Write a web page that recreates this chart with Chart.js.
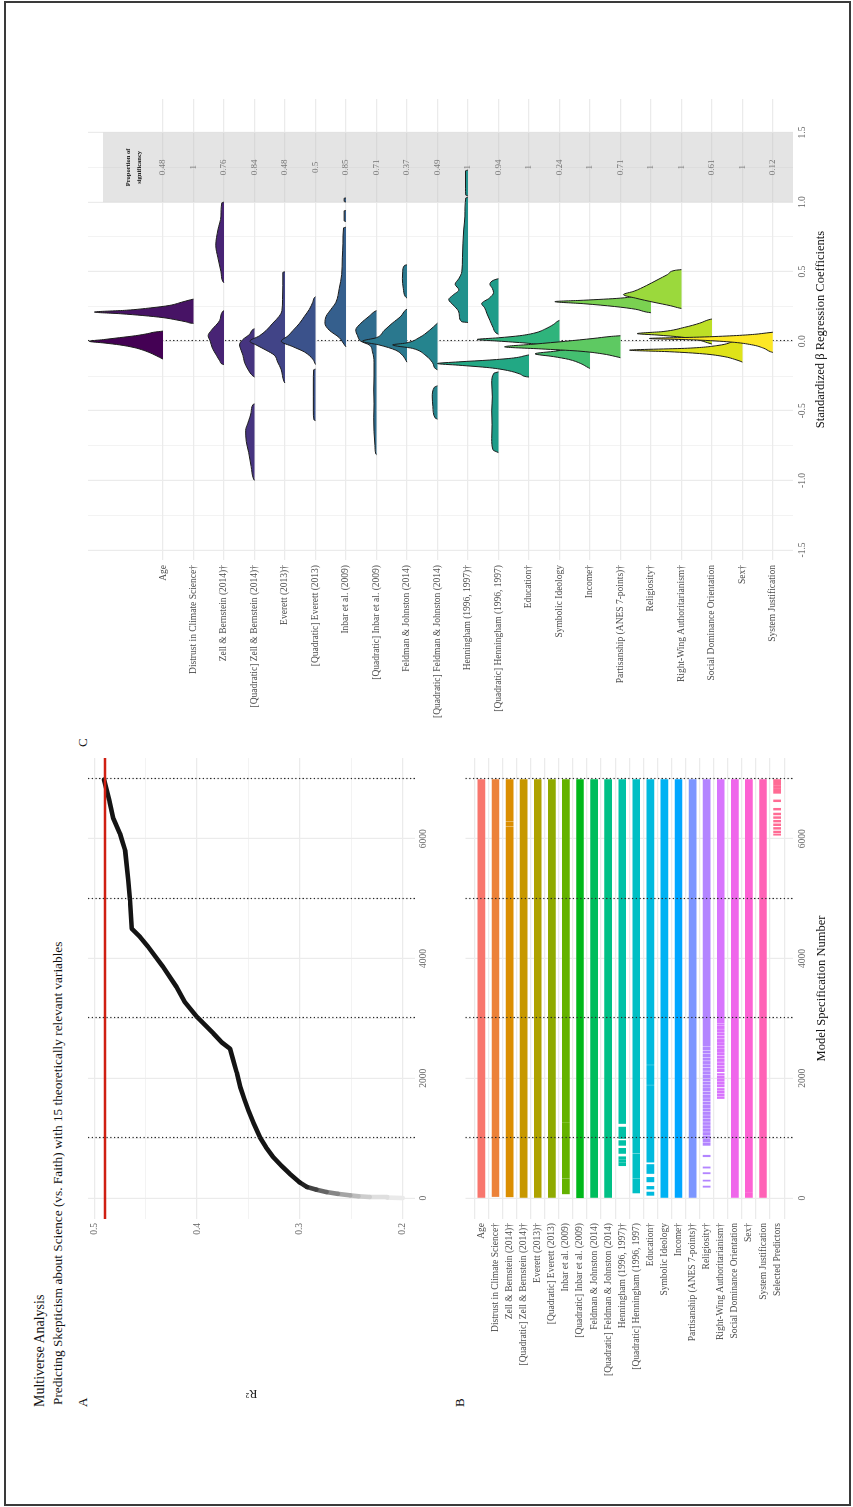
<!DOCTYPE html>
<html>
<head>
<meta charset="utf-8">
<script src="https://cdn.jsdelivr.net/npm/chart.js@4.4.1/dist/chart.umd.min.js"></script>
<style>
  html, body { margin: 0; padding: 0; background: #fff; }
  body { width: 853px; height: 1507px; position: relative; overflow: hidden; }
  #frame { position: absolute; left: 4px; top: 1px; width: 847px; height: 1505px; border: 2px solid #3a3a3a; box-sizing: border-box; }
  #fig { position: absolute; left: 0; top: 0; width: 1507px; height: 853px; transform-origin: 0 0;
         transform: translate(0, 1507px) rotate(-90deg); font-family: 'Liberation Serif', 'Times New Roman', serif; }
  .txt { position: absolute; white-space: nowrap; line-height: 1; color: #111; }
  canvas { position: absolute; }
</style>
</head>
<body>
<div id="frame"></div>
<div id="fig">
  <div class="txt" style="left:100px; top:32.5px; font-size:14px;">Multiverse Analysis</div>
  <div class="txt" style="left:102px; top:50.5px; font-size:13.3px;">Predicting Skepticism about Science (vs. Faith) with 15 theoretically relevant variables</div>
  <div class="txt" style="left:100px; top:75.5px; font-size:13px;">A</div>
  <div class="txt" style="left:100px; top:452.7px; font-size:13px;">B</div>
  <div class="txt" style="left:760px; top:75.5px; font-size:13px;">C</div>
  <canvas id="cA" width="660" height="360" style="left:100px; top:80px;"></canvas>
  <canvas id="cB" width="660" height="395" style="left:100px; top:455px;"></canvas>
  <canvas id="cC" width="650" height="770" style="left:770px; top:80px;"></canvas>
</div>

<script>
// ---------- Panel A: ordered R² across model specifications ----------
const specNumber = [0, 8, 17, 30, 45, 70, 100, 140, 184, 260, 408, 540, 685, 850, 1019, 1250, 1465, 1650, 1855, 2100,
                    2301, 2496, 2600, 2747, 3024, 3275, 3526, 3860, 4194, 4361, 4501, 4974, 5308, 5809, 5976, 6088, 6339, 6645, 6990];
const r2Value = [0.200, 0.215, 0.232, 0.243, 0.251, 0.263, 0.274, 0.284, 0.293, 0.300, 0.310, 0.318, 0.326, 0.333, 0.339,
                 0.345, 0.350, 0.354, 0.358, 0.3615, 0.3648, 0.368, 0.376, 0.384, 0.400, 0.412, 0.420, 0.433, 0.4475, 0.4555,
                 0.4636, 0.4653, 0.467, 0.470, 0.473, 0.475, 0.4815, 0.4854, 0.4905];
const r2Reference = 0.4896;
const specMarkers = [1000, 3000, 5000, 7000];
const specTicks = [0, 1000, 2000, 3000, 4000, 5000, 6000, 7000];
const r2Ticks = [0.2, 0.25, 0.3, 0.35, 0.4, 0.45, 0.5];

// ---------- Panel B: predictors included in each specification ----------
const specRows = ["Age", "Distrust in Climate Science†", "Zell & Bernstein (2014)†", "[Quadratic] Zell & Bernstein (2014)†",
  "Everett (2013)†", "[Quadratic] Everett (2013)", "Inbar et al. (2009)", "[Quadratic] Inbar et al. (2009)",
  "Feldman & Johnston (2014)", "[Quadratic] Feldman & Johnston (2014)", "Henningham (1996, 1997)†",
  "[Quadratic] Henningham (1996, 1997)", "Education†", "Symbolic Ideology", "Income†", "Partisanship (ANES 7-points)†",
  "Religiosity†", "Right-Wing Authoritarianism†", "Social Dominance Orientation", "Sex†", "System Justification",
  "Selected Predictors"];

const inclAge = [[0, 6990]];
const inclDistrust = [[25, 6990]];
const inclZell = [[20, 6200], [6215, 6285], [6300, 6990]];
const inclZellQ = [[0, 6990]];
const inclEverett = [[0, 6990]];
const inclEverettQ = [[0, 6990]];
const inclInbar = [[70, 320], [332, 1250], [1262, 6990]];
const inclInbarQ = [[5, 6990]];
const inclFeldman = [[0, 6990]];
const inclFeldmanQ = [[0, 6990]];
const inclHenningham = [[540, 590], [600, 640], [650, 690], [745, 830], [880, 960], [995, 1185], [1245, 6990]];
const inclHenninghamQ = [[85, 320], [332, 735], [750, 6990]];
const inclEducation = [[45, 100], [150, 195], [270, 345], [410, 560], [600, 1880], [1895, 2215], [2230, 6990]];
const inclSymbolic = [[0, 6990]];
const inclIncome = [[0, 6990]];
const inclPartisanship = [[0, 6990]];
const inclReligiosity = [[180, 200], [282, 300], [405, 425], [500, 520], [690, 715], [880, 920], [935, 985], [1000, 1040],
  [1058, 1095], [1112, 1150], [1165, 1210], [1228, 1262], [1280, 1322], [1338, 1378], [1395, 1432], [1450, 1492],
  [1508, 1548], [1566, 1602], [1620, 1662], [1678, 1718], [1735, 1772], [1790, 1832], [1848, 1882], [1900, 1938],
  [1955, 1992], [2010, 2058], [2075, 2112], [2130, 2172], [2190, 2228], [2245, 2282], [2300, 2342], [2360, 2402],
  [2420, 2452], [2470, 2518], [2535, 6990]];
const inclRWA = [[1662, 1690], [1705, 1735], [1752, 1785], [1800, 1830], [1856, 1885], [1900, 1935], [1950, 1985],
  [2000, 2040], [2058, 2080], [2110, 2150], [2168, 2205], [2222, 2262], [2280, 2318], [2335, 2372], [2390, 2430],
  [2445, 2485], [2500, 2540], [2555, 2598], [2612, 2650], [2668, 2705], [2722, 2762], [2778, 2815], [2830, 2870],
  [2885, 2910], [2924, 6990]];
const inclSDO = [[0, 6990]];
const inclSex = [[0, 80], [92, 6990]];
const inclSysJust = [[0, 6990]];
const inclSelected = [[6060, 6080], [6100, 6130], [6160, 6190], [6220, 6250], [6280, 6310], [6340, 6370], [6400, 6430],
  [6480, 6510], [6620, 6650], [6760, 6830], [6840, 6890], [6900, 6990]];

const inclusion = [inclAge, inclDistrust, inclZell, inclZellQ, inclEverett, inclEverettQ, inclInbar, inclInbarQ,
  inclFeldman, inclFeldmanQ, inclHenningham, inclHenninghamQ, inclEducation, inclSymbolic, inclIncome,
  inclPartisanship, inclReligiosity, inclRWA, inclSDO, inclSex, inclSysJust, inclSelected];

// ---------- Panel C: coefficient densities, [coefficient, ridge height in rows] ----------
const coefRows = specRows.slice(0, 21);
const propSignificant = [0.48, 1, 0.76, 0.84, 0.48, 0.5, 0.85, 0.71, 0.37, 0.49, 1, 0.94, 1, 0.24, 1, 0.71, 1, 1, 0.61, 1, 0.12];
const coefTicks = [-1.5, -1.25, -1, -0.75, -0.5, -0.25, 0, 0.25, 0.5, 0.75, 1, 1.25, 1.5];

const ridgeAge = [[[0.073,0],[0.065,0.3],[0.055,0.5],[0.04,0.9],[0.026,1.42],[0.012,1.95],[0.0,2.42],[-0.013,1.9],
  [-0.026,1.42],[-0.045,0.95],[-0.064,0.65],[-0.09,0.35],[-0.116,0.11],[-0.128,0]]];
const ridgeDistrust = [[[0.303,0],[0.298,0.1],[0.28,0.4],[0.257,0.8],[0.24,1.4],[0.223,2.2],[0.21,3.25],[0.198,2.4],
  [0.185,1.66],[0.17,1.0],[0.154,0.57],[0.14,0.25],[0.129,0.05],[0.128,0]]];
const ridgeZell = [
  [[1.0,0],[0.995,0.07],[0.9,0.1],[0.8,0.2],[0.69,0.27],[0.6,0.2],[0.5,0.1],[0.43,0.04],[0.42,0]],
  [[0.22,0],[0.215,0.04],[0.15,0.14],[0.08,0.41],[0.04,0.52],[0.0,0.45],[-0.05,0.38],[-0.1,0.25],[-0.14,0.14],
   [-0.165,0.05],[-0.168,0]]];
const ridgeZellQ = [
  [[0.09,0],[0.085,0.05],[0.05,0.16],[0.013,0.38],[-0.026,0.49],[-0.064,0.44],[-0.1,0.38],[-0.15,0.33],[-0.2,0.22],
   [-0.25,0.05],[-0.257,0]],
  [[-0.45,0],[-0.455,0.05],[-0.51,0.11],[-0.59,0.22],[-0.64,0.29],[-0.72,0.27],[-0.8,0.19],[-0.9,0.11],[-0.99,0.03],[-1.0,0]]];
const ridgeEverett = [[[0.5,0],[0.495,0.07],[0.4,0.07],[0.3,0.08],[0.22,0.1],[0.18,0.19],[0.13,0.4],[0.077,0.62],
  [0.039,0.84],[0.0,1.15],[-0.026,0.95],[-0.064,0.62],[-0.1,0.35],[-0.15,0.24],[-0.2,0.13],[-0.29,0.03],[-0.3,0]]];
const ridgeEverettQ = [
  [[0.32,0],[0.315,0.03],[0.28,0.09],[0.23,0.2],[0.18,0.36],[0.13,0.52],[0.077,0.74],[0.039,0.9],[0.0,1.12],
   [-0.039,0.74],[-0.077,0.36],[-0.128,0.09],[-0.167,0]],
  [[-0.2,0],[-0.205,0.06],[-0.3,0.07],[-0.4,0.07],[-0.5,0.07],[-0.565,0.05],[-0.57,0]]];
const ridgeInbar = [
  [[1.03,0],[1.028,0.06],[1.005,0.06],[1.0,0]],
  [[0.94,0],[0.938,0.06],[0.865,0.06],[0.86,0]],
  [[0.82,0],[0.815,0.08],[0.7,0.1],[0.6,0.12],[0.48,0.14],[0.38,0.22],[0.28,0.33],[0.23,0.49],[0.18,0.65],[0.13,0.69],
   [0.08,0.55],[0.026,0.22],[-0.026,0.05],[-0.04,0]]];
const ridgeInbarQ = [[[0.22,0],[0.215,0.05],[0.18,0.24],[0.13,0.51],[0.08,0.68],[0.04,0.62],[0.0,0.51],[-0.026,0.24],
  [-0.077,0.13],[-0.15,0.08],[-0.25,0.08],[-0.35,0.09],[-0.45,0.08],[-0.55,0.09],[-0.65,0.08],[-0.75,0.05],[-0.81,0.02],[-0.815,0]]];
const ridgeFeldman = [
  [[0.55,0],[0.545,0.08],[0.5,0.14],[0.45,0.15],[0.38,0.12],[0.32,0.05],[0.31,0]],
  [[0.23,0],[0.225,0.04],[0.18,0.2],[0.13,0.48],[0.077,0.75],[0.026,1.0],[0.0,1.46],[-0.026,0.92],[-0.064,0.37],
   [-0.1,0.15],[-0.15,0]]];
const ridgeFeldmanQ = [
  [[0.13,0],[0.077,0.27],[0.026,0.6],[-0.013,1.04],[-0.026,1.47],[-0.051,0.82],[-0.103,0.38],[-0.154,0.16],[-0.2,0.05],[-0.205,0]],
  [[-0.32,0],[-0.33,0.1],[-0.4,0.17],[-0.47,0.15],[-0.55,0.08],[-0.56,0]]];
const ridgeHenningham = [
  [[1.23,0],[1.225,0.08],[1.1,0.08],[1.05,0.07],[1.045,0]],
  [[1.035,0],[1.03,0.07],[0.9,0.1],[0.8,0.14],[0.6,0.18],[0.5,0.2],[0.45,0.3],[0.41,0.42],[0.37,0.3],[0.33,0.5],
   [0.3,0.63],[0.26,0.48],[0.22,0.32],[0.18,0.28],[0.14,0.2],[0.135,0]]];
const ridgeHenninghamQ = [
  [[0.45,0],[0.44,0.15],[0.41,0.28],[0.38,0.2],[0.35,0.16],[0.31,0.3],[0.27,0.55],[0.24,0.45],[0.2,0.38],[0.15,0.28],
   [0.1,0.18],[0.06,0.08],[0.05,0]],
  [[-0.22,0],[-0.23,0.15],[-0.3,0.22],[-0.4,0.2],[-0.5,0.22],[-0.6,0.21],[-0.7,0.22],[-0.78,0.18],[-0.8,0]]];
const ridgeEducation = [[[-0.098,0],[-0.1,0.05],[-0.12,0.5],[-0.135,1.3],[-0.148,2.3],[-0.16,3.0],[-0.172,2.3],
  [-0.19,1.3],[-0.21,0.7],[-0.235,0.3],[-0.255,0.08],[-0.257,0]]];
const ridgeSymbolic = [[[0.15,0],[0.145,0.05],[0.12,0.2],[0.09,0.45],[0.06,0.8],[0.04,1.3],[0.025,2.0],[0.013,2.7],
  [0.0,1.9],[-0.015,1.0],[-0.03,0.5],[-0.05,0.2],[-0.07,0.05],[-0.075,0]]];
const ridgeIncome = [[[-0.02,0],[-0.03,0.2],[-0.05,0.6],[-0.07,1.1],[-0.09,1.8],[-0.11,1.2],[-0.13,0.7],[-0.16,0.3],
  [-0.19,0.05],[-0.195,0]]];
const ridgePartisanship = [[[0.04,0],[0.035,0.3],[0.02,0.9],[0.0,1.8],[-0.02,2.8],[-0.04,3.8],[-0.055,2.6],[-0.07,1.4],
  [-0.09,0.6],[-0.11,0.15],[-0.118,0]]];
const ridgeReligiosity = [[[0.335,0],[0.33,0.3],[0.31,1.0],[0.295,2.2],[0.285,3.15],[0.27,2.2],[0.25,1.2],[0.23,0.5],
  [0.21,0.15],[0.205,0]]];
const ridgeRWA = [[[0.515,0],[0.51,0.2],[0.48,0.45],[0.44,0.8],[0.4,1.15],[0.36,1.55],[0.335,1.9],[0.31,1.5],[0.28,0.9],
  [0.255,0.35],[0.238,0.05],[0.236,0]]];
const ridgeSDO = [[[0.16,0],[0.155,0.1],[0.13,0.4],[0.1,0.9],[0.07,1.6],[0.055,2.45],[0.045,1.8],[0.03,1.0],[0.01,0.45],
  [-0.01,0.15],[-0.02,0]]];
const ridgeSex = [[[0.03,0],[0.025,0.1],[0.0,0.3],[-0.03,0.8],[-0.05,1.8],[-0.064,3.7],[-0.075,2.4],[-0.09,1.3],
  [-0.11,0.6],[-0.13,0.25],[-0.145,0.05],[-0.15,0]]];
const ridgeSysJust = [[[0.065,0],[0.06,0.2],[0.05,0.6],[0.04,1.3],[0.03,2.4],[0.02,4.05],[0.01,2.6],[-0.005,1.4],
  [-0.025,0.7],[-0.05,0.3],[-0.075,0.08],[-0.08,0]]];

const ridgeRows = [ridgeAge, ridgeDistrust, ridgeZell, ridgeZellQ, ridgeEverett, ridgeEverettQ, ridgeInbar, ridgeInbarQ,
  ridgeFeldman, ridgeFeldmanQ, ridgeHenningham, ridgeHenninghamQ, ridgeEducation, ridgeSymbolic, ridgeIncome,
  ridgePartisanship, ridgeReligiosity, ridgeRWA, ridgeSDO, ridgeSex, ridgeSysJust];

// ---------- palettes ----------
const viridis21 = ['#440154', '#471365', '#482475', '#463480', '#414487', '#3B528B', '#355F8D', '#2F6C8E', '#2A788E',
  '#25848E', '#21918C', '#1E9C89', '#22A884', '#2FB47C', '#44BF70', '#5EC962', '#7AD151', '#9BD93C', '#BDDF26',
  '#DFE318', '#FDE725'];

// polar CIE-LUV to sRGB, as used for the default discrete hue scale
function hclColor(h, c, l) {
  const Xn = 0.95047, Yn = 1, Zn = 1.08883;
  const den = Xn + 15 * Yn + 3 * Zn;
  const un = 4 * Xn / den, vn = 9 * Yn / den;
  const hr = h * Math.PI / 180;
  const Y = l > 8 ? Math.pow((l + 16) / 116, 3) : l / 903.3;
  const u = c * Math.cos(hr) / (13 * l) + un;
  const v = c * Math.sin(hr) / (13 * l) + vn;
  const X = 9 * Y * u / (4 * v);
  const Z = Y * (12 - 3 * u - 20 * v) / (4 * v);
  const lin = [3.240479 * X - 1.537150 * Y - 0.498535 * Z,
              -0.969256 * X + 1.875992 * Y + 0.041556 * Z,
               0.055648 * X - 0.204043 * Y + 1.057311 * Z];
  return '#' + lin.map(t => {
    t = Math.max(0, t);
    const g = t <= 0.0031308 ? 12.92 * t : 1.055 * Math.pow(t, 1 / 2.4) - 0.055;
    return Math.round(Math.min(1, g) * 255).toString(16).padStart(2, '0');
  }).join('');
}
const rowHue = specRows.map((_, i) => hclColor(15 + i * (360 - 360 / specRows.length) / (specRows.length - 1), 100, 65));

// ---------- shared helpers ----------
Chart.defaults.font.family = "'Liberation Serif', 'Times New Roman', serif";
const GRID = '#ebebeb';
const TICK_COLOR = '#666';
const LABEL_COLOR = '#4d4d4d';

function fixAxis(size) {
  return s => {
    if (s.isHorizontal()) s.height = size; else s.width = size;
    s.paddingTop = 0; s.paddingBottom = 0; s.paddingLeft = 0; s.paddingRight = 0;
  };
}
function setTicks(values) { return s => { s.ticks = values.map(v => ({ value: v })); }; }
const near = (a, b) => Math.abs(a - b) < 1e-6;
const isMult = (v, step) => near(v / step, Math.round(v / step));
function gridStyle(majorStep) {
  return {
    color: GRID, drawTicks: false,
    lineWidth: ctx => (ctx.tick && majorStep && !isMult(ctx.tick.value, majorStep)) ? 0.6 : 1.2
  };
}

function tailShade(y) {
  const t = Math.min(1, Math.max(0, (y - 0.2) / 0.1));
  const g = Math.round(20 + 215 * (1 - t * t));
  return `rgb(${g},${g},${g})`;
}

const specMarkerPlugin = {
  id: 'specMarkers',
  afterDatasetsDraw(chart) {
    const { ctx, chartArea: a, scales: { x } } = chart;
    ctx.save();
    ctx.strokeStyle = '#2a2a2a'; ctx.lineWidth = 1.2; ctx.setLineDash([1.3, 2.4]);
    specMarkers.forEach(v => {
      const px = Math.round(x.getPixelForValue(v)) + 0.5;
      ctx.beginPath(); ctx.moveTo(px, a.top); ctx.lineTo(px, a.bottom); ctx.stroke();
    });
    ctx.restore();
  }
};

const r2RefPlugin = {
  id: 'r2Ref',
  afterDatasetsDraw(chart) {
    const { ctx, chartArea: a, scales: { y } } = chart;
    const py = y.getPixelForValue(r2Reference);
    ctx.save();
    ctx.strokeStyle = '#cf1f12'; ctx.lineWidth = 2.6;
    ctx.beginPath(); ctx.moveTo(a.left, py); ctx.lineTo(a.right, py); ctx.stroke();
    ctx.restore();
  }
};

// ---------- Panel A ----------
new Chart(document.getElementById('cA'), {
  type: 'line',
  data: {
    datasets: [{
      data: specNumber.map((x, i) => ({ x, y: r2Value[i] })),
      borderColor: '#141414', borderWidth: 4.6, pointRadius: 0, tension: 0,
      borderCapStyle: 'round', borderJoinStyle: 'round',
      segment: { borderColor: ctx => tailShade((ctx.p0.parsed.y + ctx.p1.parsed.y) / 2) }
    }]
  },
  options: {
    responsive: false, animation: false,
    layout: { padding: { top: 8, right: 11, left: 0, bottom: 0 } },
    plugins: { legend: { display: false }, tooltip: { enabled: false } },
    scales: {
      x: {
        type: 'linear', min: -350, max: 7350,
        afterBuildTicks: setTicks(specTicks), afterFit: fixAxis(25),
        grid: gridStyle(2000), border: { display: false },
        ticks: { padding: 3, color: TICK_COLOR, font: { size: 9.5 }, maxRotation: 0, autoSkip: false,
                 callback: v => isMult(v, 2000) ? String(v) : '' }
      },
      y: {
        type: 'linear', min: 0.188, max: 0.5061,
        afterBuildTicks: setTicks(r2Ticks), afterFit: fixAxis(188),
        grid: gridStyle(0.1), border: { display: false },
        ticks: { padding: 4, color: TICK_COLOR, font: { size: 9.5 }, autoSkip: false,
                 callback: v => isMult(v, 0.1) ? v.toFixed(1) : '' },
        title: { display: true, text: 'R²', color: '#222', font: { size: 12, lineHeight: 1.2 }, padding: { top: 7, bottom: 0 } }
      }
    }
  },
  plugins: [r2RefPlugin, specMarkerPlugin]
});

// ---------- Panel B ----------
const barData = [];
inclusion.forEach((row, r) => row.forEach(([a, b]) => barData.push({ x: [a, b], y: r })));

new Chart(document.getElementById('cB'), {
  type: 'bar',
  data: {
    datasets: [{
      data: barData,
      backgroundColor: ctx => (ctx.raw ? rowHue[ctx.raw.y] : '#999'),
      borderWidth: 0, borderSkipped: false, barThickness: 7
    }]
  },
  options: {
    indexAxis: 'y', responsive: false, animation: false,
    layout: { padding: { top: 10.5, right: 11, left: 0, bottom: 0 } },
    plugins: { legend: { display: false }, tooltip: { enabled: false } },
    scales: {
      x: {
        type: 'linear', min: -350, max: 7350,
        afterBuildTicks: setTicks(specTicks), afterFit: fixAxis(57),
        grid: gridStyle(2000), border: { display: false },
        ticks: { padding: 3.6, color: TICK_COLOR, font: { size: 9.5 }, maxRotation: 0, autoSkip: false,
                 callback: v => isMult(v, 2000) ? String(v) : '' },
        title: { display: true, text: 'Model Specification Number', color: '#111',
                 font: { size: 12.5, lineHeight: 1.2 }, padding: { top: 0, bottom: 20.5 } }
      },
      y: {
        type: 'linear', min: -0.6, max: specRows.length - 0.4, reverse: true,
        afterBuildTicks: setTicks(specRows.map((_, i) => i)), afterFit: fixAxis(188),
        grid: { color: GRID, drawTicks: false, lineWidth: 1.2 }, border: { display: false },
        ticks: { padding: 4, color: LABEL_COLOR, font: { size: 9.5 }, autoSkip: false,
                 callback: v => specRows[Math.round(v)] }
      }
    }
  },
  plugins: [specMarkerPlugin]
});

// ---------- Panel C ----------
const BOX_FROM = 1.0, BOX_TO = 1.5, BOX_TOP_ROW = -1.967, PROP_AT = 1.25;
const coefPanelPlugin = {
  id: 'coefPanel',
  beforeDatasetsDraw(chart) {
    const { ctx, chartArea: a, scales: { x, y } } = chart;
    ctx.save();
    // shaded strip holding the share of significant estimates
    const x0 = x.getPixelForValue(BOX_FROM), x1 = x.getPixelForValue(BOX_TO);
    const y0 = y.getPixelForValue(BOX_TOP_ROW);
    ctx.fillStyle = 'rgba(190,190,190,0.42)';
    ctx.fillRect(x0, y0, x1 - x0, a.bottom - y0);
    const cx = x.getPixelForValue(PROP_AT);
    ctx.textAlign = 'center'; ctx.textBaseline = 'middle';
    ctx.fillStyle = '#111';
    ctx.font = "bold 6.5px 'Liberation Serif', serif";
    ctx.fillText('Proportion of', cx, y.getPixelForValue(-1.15));
    ctx.fillText('significancy', cx, y.getPixelForValue(-0.79));
    ctx.fillStyle = '#777';
    ctx.font = "9px 'Liberation Serif', serif";
    propSignificant.forEach((p, r) => ctx.fillText(String(p), cx, y.getPixelForValue(r)));
    // zero reference
    const zx = Math.round(x.getPixelForValue(0)) + 0.5;
    ctx.strokeStyle = '#2a2a2a'; ctx.lineWidth = 1.1; ctx.setLineDash([1.3, 2.4]);
    ctx.beginPath(); ctx.moveTo(zx, a.top); ctx.lineTo(zx, a.bottom); ctx.stroke();
    ctx.restore();
  }
};

const ridgeSets = [];
ridgeRows.forEach((parts, r) => parts.forEach(part => {
  ridgeSets.push({
    data: part.slice().sort((p, q) => p[0] - q[0]).map(([c, h]) => ({ x: c, y: r - h })),
    fill: { value: r },
    backgroundColor: viridis21[r],
    borderColor: '#1b1b1b', borderWidth: 1,
    pointRadius: 0, cubicInterpolationMode: 'monotone',
    order: ridgeRows.length - 1 - r
  });
}));

new Chart(document.getElementById('cC'), {
  type: 'line',
  data: { datasets: ridgeSets },
  options: {
    responsive: false, animation: false,
    layout: { padding: { top: 8, right: 12, left: 0, bottom: 0 } },
    plugins: { legend: { display: false }, tooltip: { enabled: false }, filler: { drawTime: 'beforeDatasetDraw' } },
    scales: {
      x: {
        type: 'linear', min: -1.572, max: 1.741,
        afterBuildTicks: setTicks(coefTicks), afterFit: fixAxis(57),
        grid: gridStyle(0.5), border: { display: false },
        ticks: { padding: 4, color: TICK_COLOR, font: { size: 9.5 }, maxRotation: 0, autoSkip: false,
                 callback: v => isMult(v, 0.5) ? v.toFixed(1) : '' },
        title: { display: true, text: 'Standardized β Regression Coefficients', color: '#111',
                 font: { size: 12.5, lineHeight: 1.2 }, padding: { top: 0, bottom: 21.5 } }
      },
      y: {
        type: 'linear', min: -2.46, max: 20.66, reverse: true,
        afterBuildTicks: setTicks(coefRows.map((_, i) => i)), afterFit: fixAxis(177),
        grid: { color: GRID, drawTicks: false, lineWidth: 1.2 }, border: { display: false },
        ticks: { padding: 5, color: LABEL_COLOR, font: { size: 9.5 }, autoSkip: false,
                 callback: v => coefRows[Math.round(v)] }
      }
    }
  },
  plugins: [coefPanelPlugin]
});
</script>
</body>
</html>
